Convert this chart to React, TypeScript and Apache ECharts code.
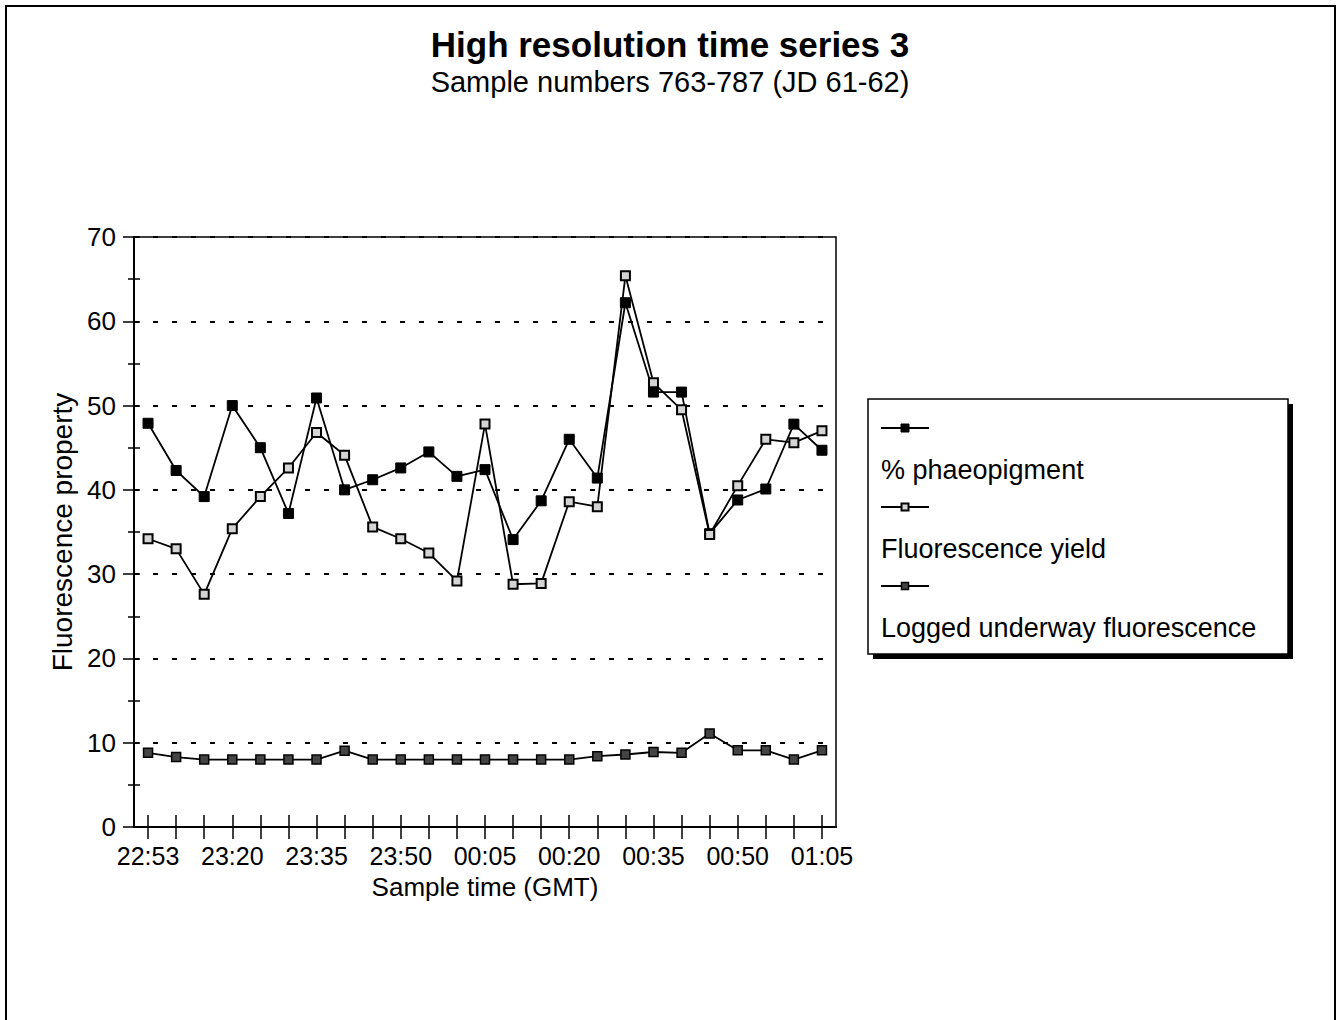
import React, { useEffect, useRef } from "react";
import * as echarts from "echarts";

const FONT = '"Liberation Sans", Arial, Helvetica, sans-serif';

const titleText = "High resolution time series 3";
const subtitleText = "Sample numbers 763-787 (JD 61-62)";
const xAxisName = "Sample time (GMT)";
const yAxisName = "Fluorescence property";

const categories = [
  "22:53", "23:10", "23:15", "23:20", "23:25", "23:30", "23:35", "23:40", "23:45",
  "23:50", "23:55", "00:00", "00:05", "00:10", "00:15", "00:20", "00:25", "00:30",
  "00:35", "00:40", "00:45", "00:50", "00:55", "01:00", "01:05",
];

const seriesNames = ["% phaeopigment", "Fluorescence yield", "Logged underway fluorescence"];

const phaeopigment = [
  47.9, 42.3, 39.2, 50.0, 45.0, 37.2, 50.9, 40.0, 41.2, 42.6, 44.5, 41.6, 42.4,
  34.1, 38.7, 46.0, 41.4, 62.2, 51.6, 51.6, 34.8, 38.8, 40.1, 47.8, 44.7,
];

const fluorescenceYield = [
  34.2, 33.0, 27.6, 35.4, 39.2, 42.6, 46.8, 44.1, 35.6, 34.2, 32.5, 29.2, 47.8,
  28.8, 28.9, 38.6, 38.0, 65.4, 52.7, 49.5, 34.7, 40.5, 46.0, 45.6, 47.0,
];

const loggedUnderway = [
  8.8, 8.3, 8.0, 8.0, 8.0, 8.0, 8.0, 9.05, 8.0, 8.0, 8.0, 8.0, 8.0,
  8.0, 8.0, 8.0, 8.4, 8.6, 8.9, 8.8, 11.1, 9.1, 9.1, 8.0, 9.1,
];

const markerStyles = [
  { color: "#000", borderColor: "#000", borderWidth: 1, size: 10 },
  { color: "#d4d4d4", borderColor: "#000", borderWidth: 2, size: 9 },
  { color: "#444", borderColor: "#000", borderWidth: 1.5, size: 9 },
];

export default function App() {
  const ref = useRef<HTMLDivElement>(null);

  useEffect(() => {
    if (!ref.current) return;
    const chart = echarts.init(ref.current, undefined, { renderer: "svg" });

    const dataSets = [phaeopigment, fluorescenceYield, loggedUnderway];

    const series = dataSets.map((d, i) => ({
      name: seriesNames[i],
      type: "line",
      xAxisIndex: 0,
      yAxisIndex: 0,
      data: d,
      symbol: "rect",
      symbolSize: markerStyles[i].size,
      showSymbol: true,
      lineStyle: { color: "#000", width: 1.8 },
      itemStyle: {
        color: markerStyles[i].color,
        borderColor: markerStyles[i].borderColor,
        borderWidth: markerStyles[i].borderWidth,
      },
      z: 3 + i,
    }));

    const legendX = 868;
    const legendY = 399;
    const legendW = 420;
    const legendH = 255;
    const legendChildren: any[] = [
      {
        type: "rect",
        shape: { x: legendX + 5, y: legendY + 5, width: legendW, height: legendH },
        style: { fill: "#000" },
      },
      {
        type: "rect",
        shape: { x: legendX, y: legendY, width: legendW, height: legendH },
        style: { fill: "#fff", stroke: "#000", lineWidth: 1.5 },
      },
    ];
    seriesNames.forEach((name, i) => {
      const sy = legendY + 29 + i * 79;
      legendChildren.push({
        type: "line",
        shape: { x1: legendX + 13, y1: sy, x2: legendX + 61, y2: sy },
        style: { stroke: "#000", lineWidth: 1.8 },
      });
      const ms = markerStyles[i].size - 2;
      legendChildren.push({
        type: "rect",
        shape: { x: legendX + 37 - ms / 2, y: sy - ms / 2, width: ms, height: ms },
        style: {
          fill: markerStyles[i].color,
          stroke: markerStyles[i].borderColor,
          lineWidth: markerStyles[i].borderWidth,
        },
      });
      legendChildren.push({
        type: "text",
        style: {
          text: name,
          x: legendX + 13,
          y: sy + 42,
          fill: "#000",
          font: `27px ${FONT}`,
          verticalAlign: "middle",
          align: "left",
        },
      });
    });

    const option: any = {
      animation: false,
      backgroundColor: "#fff",
      textStyle: { fontFamily: FONT, color: "#000" },
      title: {
        text: titleText,
        subtext: subtitleText,
        left: "center",
        top: 22,
        itemGap: 5,
        textStyle: { fontFamily: FONT, fontSize: 35, fontWeight: "bold", color: "#000" },
        subtextStyle: { fontFamily: FONT, fontSize: 29, color: "#000" },
      },
      grid: {
        left: 134,
        top: 237,
        width: 702,
        height: 590,
        show: true,
        borderColor: "#000",
        borderWidth: 1.5,
        backgroundColor: "transparent",
        outerBoundsMode: "none",
        containLabel: false,
      },
      xAxis: [
        {
          type: "category",
          data: categories,
          boundaryGap: true,
          position: "bottom",
          axisLine: { show: true, lineStyle: { color: "#000", width: 2 } },
          axisTick: {
            show: true,
            alignWithLabel: true,
            interval: 0,
            inside: false,
            length: 12,
            lineStyle: { color: "#000", width: 1.5 },
          },
          axisLabel: {
            interval: 2,
            color: "#000",
            fontSize: 25,
            fontFamily: FONT,
            margin: 16,
          },
          splitLine: { show: false },
          name: xAxisName,
          nameLocation: "middle",
          nameGap: 47,
          nameTextStyle: { fontSize: 26, fontFamily: FONT, color: "#000" },
        },
        {
          type: "category",
          data: categories,
          boundaryGap: true,
          position: "bottom",
          axisLine: { show: false },
          axisTick: {
            show: true,
            alignWithLabel: true,
            interval: 0,
            inside: true,
            length: 12,
            lineStyle: { color: "#000", width: 1.5 },
          },
          axisLabel: { show: false },
          splitLine: { show: false },
        },
      ],
      yAxis: [
        {
          type: "value",
          min: 0,
          max: 70,
          interval: 10,
          position: "left",
          axisLine: { show: true, lineStyle: { color: "#000", width: 2 } },
          axisTick: { show: true, inside: false, length: 11, lineStyle: { color: "#000", width: 1.5 } },
          minorTick: { show: true, splitNumber: 2, length: 6, lineStyle: { color: "#000", width: 1.5 } },
          axisLabel: { color: "#000", fontSize: 26, fontFamily: FONT, margin: 18 },
          splitLine: { show: true, lineStyle: { color: "#000", width: 1.8, type: [5, 14] } },
          name: yAxisName,
          nameLocation: "middle",
          nameGap: 58,
          nameTextStyle: { fontSize: 28, fontFamily: FONT, color: "#000" },
        },
        {
          type: "value",
          min: 0,
          max: 70,
          interval: 5,
          position: "left",
          axisLine: { show: false },
          axisTick: { show: true, inside: true, length: 6, lineStyle: { color: "#000", width: 1.5 } },
          axisLabel: { show: false },
          splitLine: { show: false },
        },
      ],
      series,
      graphic: [
        {
          type: "rect",
          shape: { x: 6, y: 6, width: 1329, height: 1030 },
          style: { fill: "none", stroke: "#000", lineWidth: 2 },
          silent: true,
        },
        { type: "group", children: legendChildren },
      ],
    };

    chart.setOption(option);
    return () => chart.dispose();
  }, []);

  return (
    <div
      ref={ref}
      style={{ position: "absolute", left: 0, top: 0, width: 1340, height: 1020, background: "#fff" }}
    />
  );
}
